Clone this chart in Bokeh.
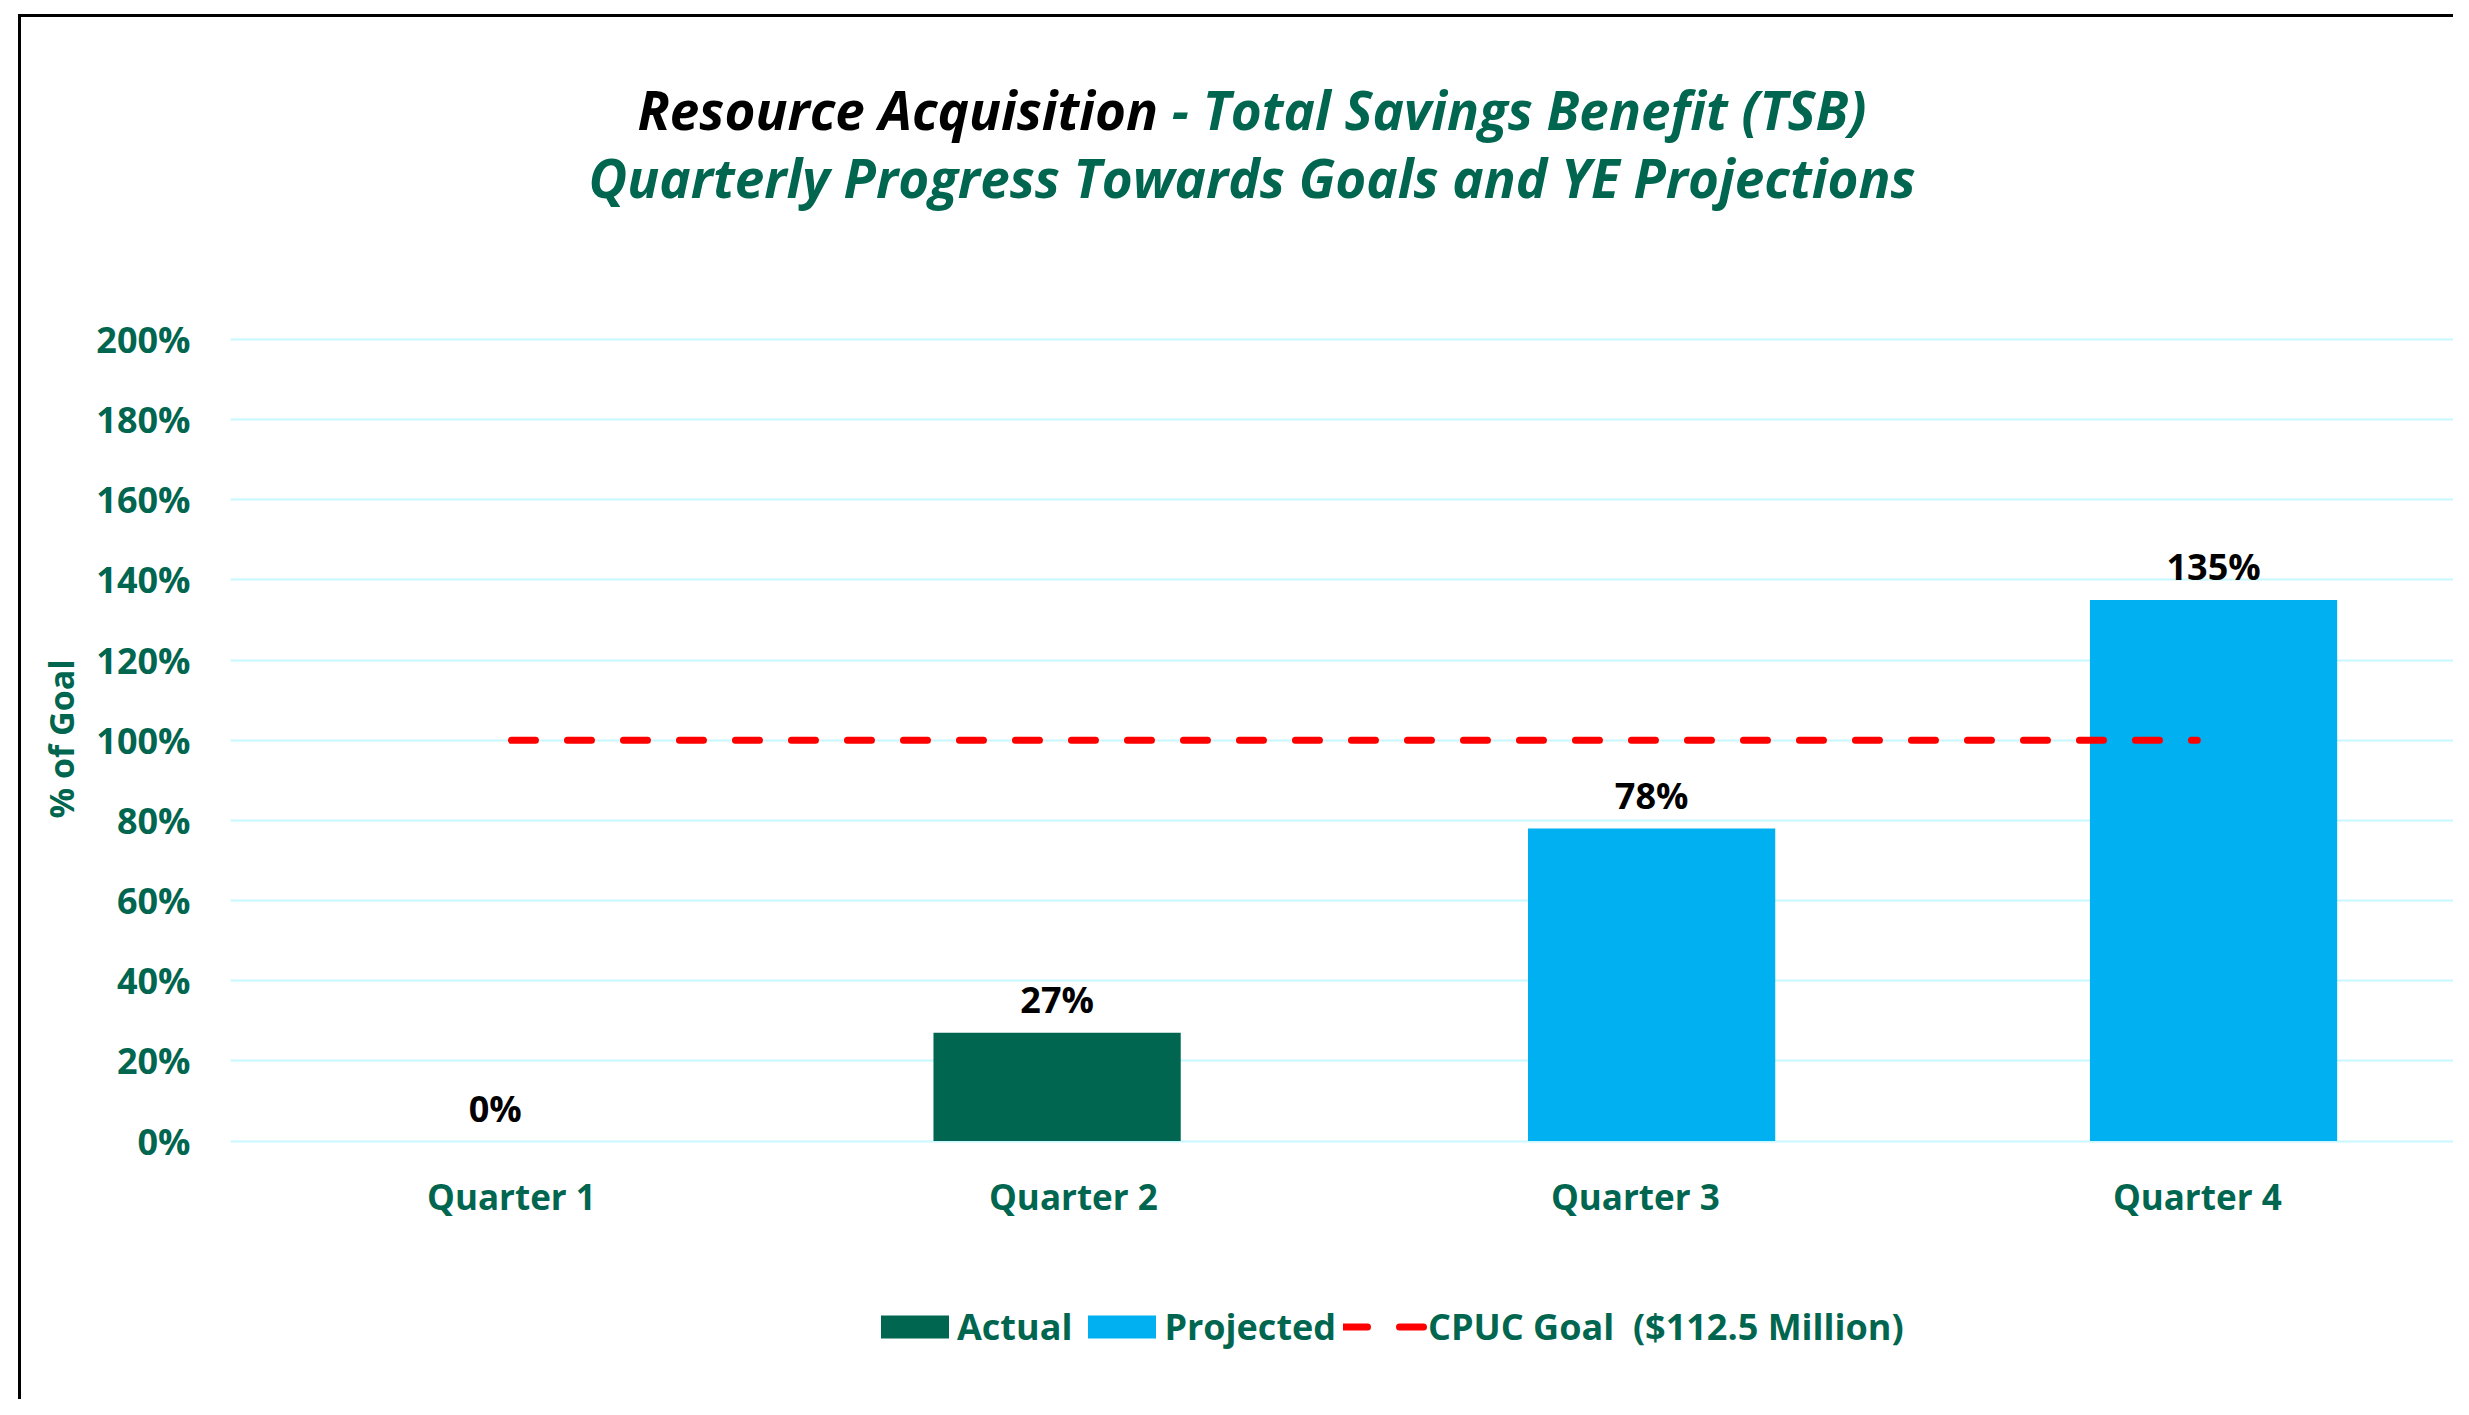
from bokeh.plotting import figure
from bokeh.models import (ColumnDataSource, Range1d, FixedTicker, NumeralTickFormatter,
                          Legend, LegendItem, Div, Title)
from bokeh.layouts import column
from bokeh.transform import dodge
from bokeh.core.properties import value
from bokeh.embed import file_html
from bokeh.resources import INLINE

# ---------------- data ----------------
categories = ["Quarter 1", "Quarter 2", "Quarter 3", "Quarter 4"]
actual_quarters = ["Quarter 1", "Quarter 2"]
actual_values = [0.00, 0.27]
projected_quarters = ["Quarter 3", "Quarter 4"]
projected_values = [0.78, 1.35]
goal_value = 1.00
series_names = ["Actual", "Projected", "CPUC Goal  ($112.5 Million)"]
y_ticks = [0.0, 0.2, 0.4, 0.6, 0.8, 1.0, 1.2, 1.4, 1.6, 1.8, 2.0]
title_black = "Resource Acquisition"
title_green = " - Total Savings Benefit (TSB)"
title_line2 = "Quarterly Progress Towards Goals and YE Projections"
y_title = "% of Goal"

# ---------------- styles ----------------
GREEN = "#00664F"
BLUE = "#00B0F0"
RED = "#FF0000"
GRID = "#C8F8FF"
FONT = "Open Sans"

W = 2432
DIV_H = 232
FIG_H = 1150

pos = {c: i + 0.5 for i, c in enumerate(categories)}
BAR_W = 0.44
DODGE = 0.029

title_html = (
    f'<div style="width:{W}px;text-align:center;font-family:\'{FONT}\';font-weight:bold;'
    f'font-style:italic;font-size:53px;line-height:68px;color:{GREEN};'
    f'padding-top:59px;padding-left:30px;box-sizing:border-box;white-space:pre;">'
    f'<span style="color:#000000">{title_black}</span>{title_green}<br>{title_line2}</div>'
)
div = Div(text=title_html, width=W, height=DIV_H, margin=0)

p = figure(width=W, height=FIG_H,
           x_range=Range1d(0, 3.956), y_range=Range1d(-0.645, 2.005),
           output_backend="svg", toolbar_location=None,
           min_border_left=209, min_border_right=0,
           min_border_top=88, min_border_bottom=0)
p.outline_line_color = None
p.background_fill_color = "white"
p.border_fill_color = "white"

# grid
p.xgrid.visible = False
p.ygrid.ticker = FixedTicker(ticks=y_ticks)
p.ygrid.grid_line_color = GRID
p.ygrid.grid_line_width = 2

# y axis
yax = p.yaxis[0]
yax.ticker = FixedTicker(ticks=y_ticks)
yax.formatter = NumeralTickFormatter(format="0%")
yax.axis_line_color = None
yax.major_tick_line_color = None
yax.minor_tick_line_color = None
yax.major_tick_out = 0
yax.major_tick_in = 0
yax.major_label_standoff = 40
yax.major_label_text_font = FONT
yax.major_label_text_font_style = "bold"
yax.major_label_text_font_size = "36px"
yax.major_label_text_color = GREEN

# y-axis title, placed along the 0-200% band
p.add_layout(Title(text=y_title, align="left", offset=581, standoff=20,
                   text_font=FONT, text_font_style="bold", text_font_size="34px",
                   text_color=GREEN), "left")

# x axis, pinned at 0%
xax = p.xaxis[0]
xax.fixed_location = 0
xax.ticker = FixedTicker(ticks=[pos[c] for c in categories])
xax.major_label_overrides = {pos[c]: c for c in categories}
xax.axis_line_color = None
xax.major_tick_line_color = None
xax.minor_tick_line_color = None
xax.major_tick_out = 0
xax.major_tick_in = 0
xax.major_label_standoff = 32
xax.major_label_text_font = FONT
xax.major_label_text_font_style = "bold"
xax.major_label_text_font_size = "35px"
xax.major_label_text_color = GREEN

# bars
src_a = ColumnDataSource(dict(x=[pos[q] for q in actual_quarters], top=actual_values,
                              label=[f"{v:.0%}" for v in actual_values]))
src_p = ColumnDataSource(dict(x=[pos[q] for q in projected_quarters], top=projected_values,
                              label=[f"{v:.0%}" for v in projected_values]))

r_a = p.vbar(x=dodge("x", -DODGE, range=p.x_range), top="top", width=BAR_W, source=src_a,
             fill_color=GREEN, line_color=None)
r_p = p.vbar(x=dodge("x", DODGE, range=p.x_range), top="top", width=BAR_W, source=src_p,
             fill_color=BLUE, line_color=None)

for src, dd in ((src_a, -DODGE), (src_p, DODGE)):
    p.text(x=dodge("x", dd, range=p.x_range), y="top", text="label", source=src,
           text_align="center", text_baseline="alphabetic", y_offset=-33,
           text_font=value(FONT), text_font_style="bold", text_font_size="36px",
           text_color="black")

# goal line
r_g = p.line(x=[pos[categories[0]], pos[categories[-1]]], y=[goal_value, goal_value],
             line_color=RED, line_width=7, line_dash="24 32", line_cap="round")

# legend (inside the frame, below the category labels)
legend = Legend(items=[LegendItem(label=series_names[0], renderers=[r_a]),
                       LegendItem(label=series_names[1], renderers=[r_p]),
                       LegendItem(label=series_names[2], renderers=[r_g])],
                orientation="horizontal", location=(642, 48),
                glyph_width=85, glyph_height=29, label_height=29, label_standoff=0,
                spacing=7, padding=0, margin=0,
                border_line_color=None, background_fill_alpha=0)
legend.label_text_font = FONT
legend.label_text_font_style = "bold"
legend.label_text_font_size = "36px"
legend.label_text_color = GREEN
p.add_layout(legend)

inner = column(div, p, styles={"border-left": "3px solid #000000",
                               "border-top": "3px solid #000000"})
layout = column(inner, styles={"padding-left": "18px", "padding-top": "14px"})

open("out.html", "w").write(file_html(layout, INLINE))
